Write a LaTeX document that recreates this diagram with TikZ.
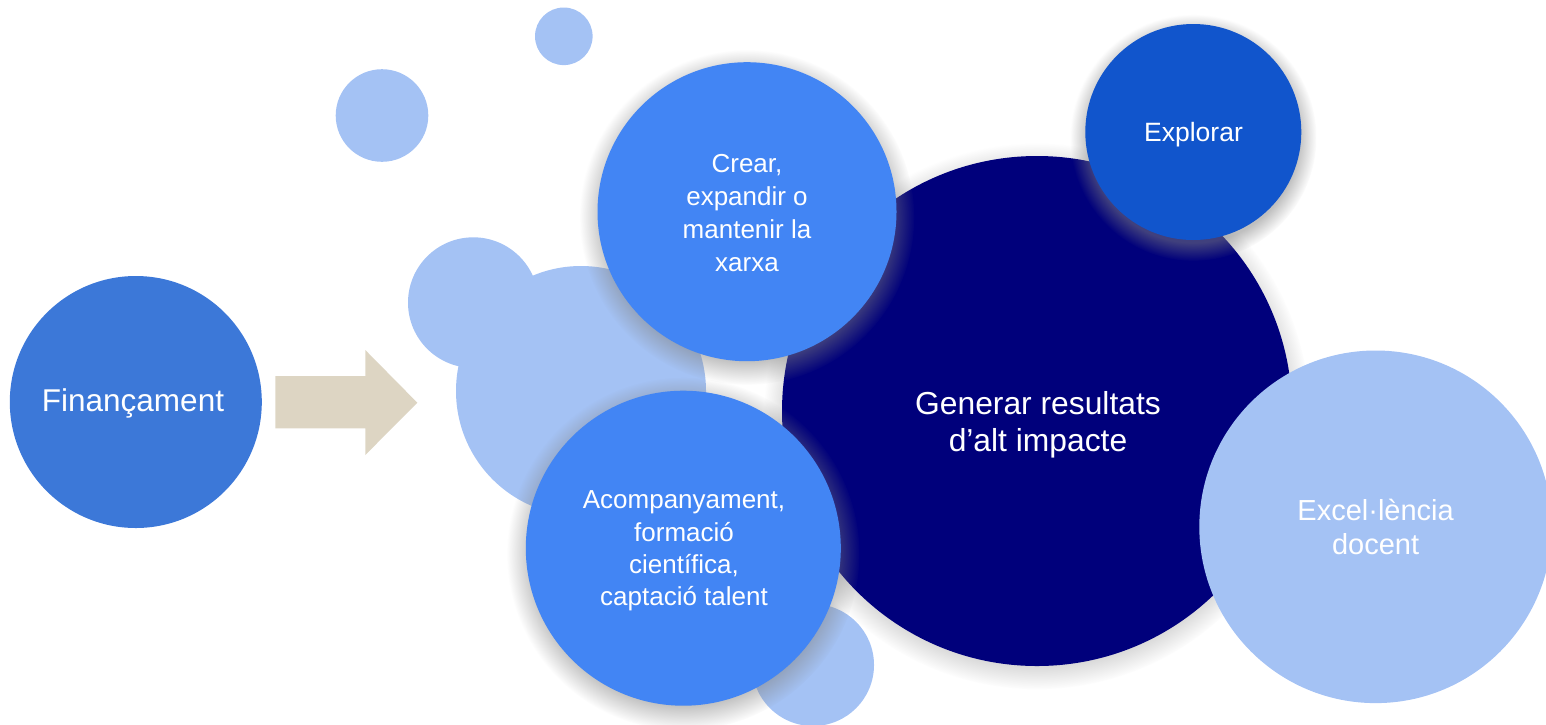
\documentclass[tikz,border=0pt]{standalone}
\usepackage{fontspec}
\setmainfont{Liberation Sans}
\usetikzlibrary{shadows}
\definecolor{finblue}{HTML}{3C78D8}
\definecolor{arrowbeige}{HTML}{DDD5C3}
\definecolor{lightblue}{HTML}{A4C2F4}
\definecolor{midblue}{HTML}{4285F4}
\definecolor{navyblue}{HTML}{00007B}
\definecolor{exploreblue}{HTML}{1155CC}
\tikzset{
  bubble/.style={circle, inner sep=0pt, minimum size=#1, text=white, align=center},
  softshadow/.style={circular drop shadow={shadow xshift=0pt, shadow yshift=-5pt, shadow scale=#1, opacity=0.5}},
  lbl/.style={text=white, align=center, inner sep=0pt}
}
\begin{document}
\begin{tikzpicture}[x=1pt,y=-1pt]
\useasboundingbox (0,0) rectangle (1546,724);
\clip (0,0) rectangle (1546,724);
% decorative light circles
\node[bubble=57.6pt, fill=lightblue] (dotA) at (563.8,36.3) {};
\node[bubble=92.6pt, fill=lightblue] (dotB) at (382,115.5) {};
\node[bubble=130.6pt, fill=lightblue] (dotC) at (473.3,302.6) {};
\node[bubble=250pt, fill=lightblue] (dotD) at (581,391) {};
\node[bubble=122pt, fill=lightblue] (dotE) at (813,665) {};
% main circles
\node[bubble=510pt, fill=navyblue, softshadow=1.07] (gen) at (1037,411) {};
\node[lbl, font=\fontsize{31.8}{37.5}\selectfont] (gentext) at (1038,425) {Generar resultats\\d’alt impacte};
\node[bubble=299pt, fill=midblue, softshadow=1.12] (crear) at (747,211.7) {};
\node[lbl, font=\fontsize{26}{32.7}\selectfont] (creartext) at (747,213) {Crear,\\expandir o\\mantenir la\\xarxa};
\node[bubble=315pt, fill=midblue, softshadow=1.12] (acomp) at (683.3,548.2) {};
\node[lbl, font=\fontsize{26}{32.3}\selectfont] (acomptext) at (684,551) {Acompanyament,\\formació\\científica,\\captació talent};
\node[bubble=216pt, fill=exploreblue, softshadow=1.14] (expl) at (1193.3,132) {};
\node[lbl, font=\fontsize{26.5}{30}\selectfont] (expltext) at (1193.5,135) {Explorar};
\node[bubble=352.6pt, fill=lightblue, font=\fontsize{29}{34.5}\selectfont] (exc) at (1375.6,526.8) {Excel·lència\\docent};
\node[bubble=252pt, fill=finblue] (fin) at (135.8,402) {};
\node[lbl, font=\fontsize{31.5}{36}\selectfont] (fintext) at (133,403.5) {Finançament};
% block arrow
\fill[arrowbeige] (275.3,376) -- (365.3,376) -- (365.3,350) -- (417.3,402.7)
  -- (365.3,455) -- (365.3,428.3) -- (275.3,428.3) -- cycle;
\end{tikzpicture}
\end{document}
